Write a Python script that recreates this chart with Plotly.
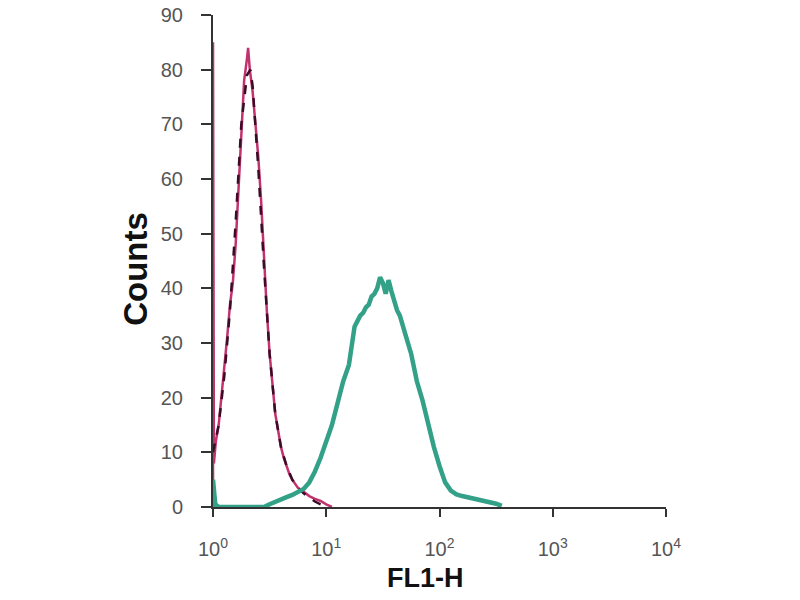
import plotly.graph_objects as go

# Control (pink) histogram: log10 channel position and counts
pink_logx = [0.0, 0.0, 0.008, 0.025, 0.05, 0.075, 0.1, 0.125, 0.15, 0.175, 0.2, 0.225, 0.25,
             0.275, 0.3, 0.31, 0.325, 0.35, 0.375, 0.4, 0.425, 0.45, 0.475, 0.5, 0.525,
             0.55, 0.575, 0.6, 0.625, 0.65, 0.675, 0.7, 0.75, 0.8, 0.85, 0.9, 0.95, 1.0, 1.05]
pink_counts = [0, 85, 8, 12, 15, 20, 25, 31, 37, 41, 48, 58, 70,
               78, 82, 84, 80, 76, 70, 64, 56, 45, 36, 28, 22,
               17, 14, 11, 9, 7.5, 6, 5, 3.5, 2.8, 2, 1.5, 1.1, 0.5, 0]

# Second control (dark dashed)
dash_logx = [0.0, 0.05, 0.1, 0.15, 0.2, 0.25, 0.3, 0.33, 0.35, 0.4, 0.45, 0.5, 0.55,
             0.6, 0.65, 0.7, 0.75, 0.8, 0.85, 0.9, 0.95, 1.0]
dash_counts = [10, 15, 24, 36, 52, 70, 79, 80, 77, 62, 44, 28, 17,
               11, 7.5, 5, 3.5, 2.5, 1.8, 1, 0.5, 0.2]

# Stained sample (teal)
teal_logx = [0.0, 0.0, 0.02, 0.05, 0.15, 0.25, 0.35, 0.45, 0.5, 0.55, 0.6, 0.65, 0.7, 0.75,
             0.8, 0.85, 0.9, 0.95, 1.0, 1.05, 1.1, 1.15, 1.2, 1.225, 1.25, 1.275, 1.3, 1.325,
             1.35, 1.375, 1.4, 1.425, 1.45, 1.475, 1.5, 1.525, 1.55, 1.575, 1.6, 1.625,
             1.65, 1.675, 1.7, 1.75, 1.8, 1.85, 1.9, 1.95,
             2.0, 2.05, 2.1, 2.15, 2.2, 2.25, 2.3, 2.35, 2.4, 2.45, 2.5, 2.55]
teal_counts = [0, 5, 0.5, 0, 0, 0, 0, 0, 0.5, 1.0, 1.5, 1.8, 2.2, 2.8,
               3.3, 4.5, 6.5, 9, 12, 15, 19, 23, 26, 29, 33, 34, 35, 35.5,
               36.5, 37, 38.5, 39, 40, 42, 41, 39, 41.5, 39.5, 37.5, 36,
               35, 33, 31.5, 28, 23, 19.5, 15, 11,
               7.5, 4.5, 3, 2.3, 2, 1.8, 1.5, 1.3, 1.2, 1, 0.6, 0.2]

y_ticks = [0, 10, 20, 30, 40, 50, 60, 70, 80, 90]
x_tickvals = [1, 10, 100, 1000, 10000]
x_ticktext = ["10<sup>0</sup>", "10<sup>1</sup>", "10<sup>2</sup>", "10<sup>3</sup>", "10<sup>4</sup>"]

fig = go.Figure()
fig.add_trace(go.Scatter(x=[10 ** v for v in pink_logx], y=pink_counts, mode="lines",
                         line=dict(color="#c0336e", width=2.5), showlegend=False))
fig.add_trace(go.Scatter(x=[10 ** v for v in dash_logx], y=dash_counts, mode="lines",
                         line=dict(color="#3a0c28", width=2.5, dash="dash"), showlegend=False))
fig.add_trace(go.Scatter(x=[10 ** v for v in teal_logx], y=teal_counts, mode="lines",
                         line=dict(color="#33a088", width=4.5), showlegend=False))

axis_font = dict(family="Liberation Sans, Arial, sans-serif", size=20, color="#555")
title_font = "Liberation Sans, Arial, sans-serif"
fig.update_layout(
    width=800, height=600,
    margin=dict(l=213, r=134, t=15, b=93),
    paper_bgcolor="white", plot_bgcolor="white",
    xaxis=dict(type="log", range=[0, 4], tickvals=x_tickvals, ticktext=x_ticktext,
               showgrid=False, zeroline=False, showline=True, linecolor="#333", linewidth=2,
               ticks="outside", ticklen=8, tickwidth=2, tickcolor="#333", automargin=False,
               tickfont=axis_font, ticklabelstandoff=15, ticklabeloverflow="allow"),
    yaxis=dict(range=[0, 90], tickvals=y_ticks, showgrid=False, zeroline=False,
               showline=True, linecolor="#333", linewidth=2, automargin=False,
               ticks="outside", ticklen=10, tickwidth=2, tickcolor="#333",
               tickfont=axis_font, ticklabelstandoff=14, ticklabeloverflow="allow"),
    annotations=[
        dict(text="<b>FL1-H</b>", xref="paper", yref="paper", x=0.468, y=-0.144,
             xanchor="center", yanchor="middle", showarrow=False,
             font=dict(family=title_font, size=27, color="#111")),
        dict(text="<b>Counts</b>", xref="paper", yref="paper", x=-0.170, y=0.484,
             xanchor="center", yanchor="middle", textangle=-90, showarrow=False,
             font=dict(family=title_font, size=33, color="#111")),
    ],
)

fig.write_html("out.html", config={"displayModeBar": False},
               post_script="document.body.style.margin='0';")
